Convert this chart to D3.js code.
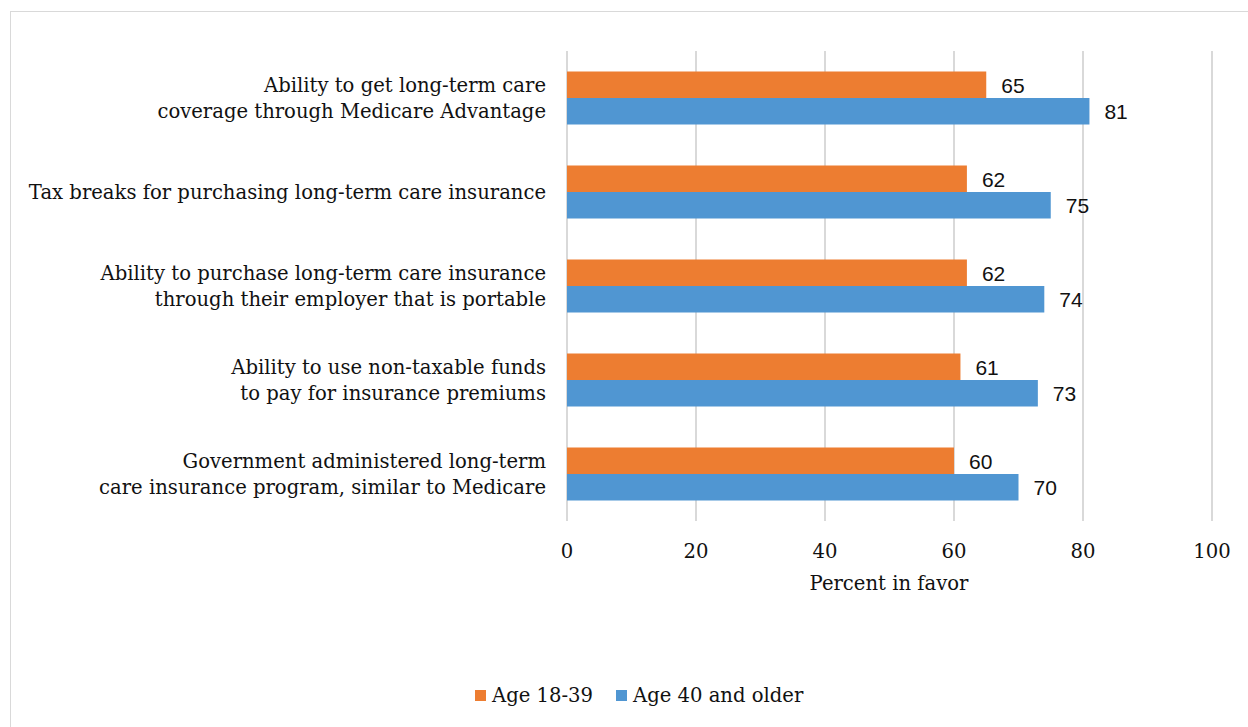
<!DOCTYPE html>
<html>
<head>
<meta charset="utf-8">
<script src="https://cdn.jsdelivr.net/npm/d3@7"></script>
<style>
  body { margin: 0; background: #fff; }
  svg { display: block; }
  .lbl { font-family: 'DejaVu Serif', serif; font-size: 19.6px; fill: #111; }
  .val { font-family: 'Liberation Sans', Arial, sans-serif; font-size: 21px; fill: #111; }
</style>
</head>
<body>
<svg width="1248" height="727"></svg>
<script>
const categories = [
  ['Ability to get long-term care', 'coverage through Medicare Advantage'],
  ['Tax breaks for purchasing long-term care insurance'],
  ['Ability to purchase long-term care insurance', 'through their employer that is portable'],
  ['Ability to use non-taxable funds', 'to pay for insurance premiums'],
  ['Government administered long-term', 'care insurance program, similar to Medicare']
]
const young = [65, 62, 62, 61, 60]
const older = [81, 75, 74, 73, 70]
const seriesNames = ['Age 18-39', 'Age 40 and older']
const ticks = [0, 20, 40, 60, 80, 100]

const colors = ['#ED7D31', '#5096D2']
const svg = d3.select('svg')

// outer frame (right and bottom edges run off the page)
svg.append('rect')
  .attr('x', 10.5).attr('y', 11.5)
  .attr('width', 1400).attr('height', 900)
  .attr('fill', 'none').attr('stroke', '#d9d9d9')

const x = d3.scaleLinear().domain([0, 100]).range([567, 1212])
const y = d3.scaleBand().domain(d3.range(categories.length)).range([51, 521])
const inner = d3.scaleBand().domain([0, 1]).range([0, 53])

// gridlines
svg.append('g').selectAll('line').data(ticks).join('line')
  .attr('x1', d => x(d)).attr('x2', d => x(d))
  .attr('y1', 51).attr('y2', 521)
  .attr('stroke', '#d9d9d9').attr('stroke-width', 2)

const rows = categories.map((c, i) => ({ i, vals: [young[i], older[i]] }))
const groups = svg.append('g').selectAll('g').data(rows).join('g')
  .attr('transform', d => `translate(0,${y(d.i) + (y.bandwidth() - 53) / 2})`)

groups.selectAll('rect').data(d => d.vals).join('rect')
  .attr('x', x(0))
  .attr('y', (d, j) => inner(j))
  .attr('width', d => x(d) - x(0))
  .attr('height', inner.bandwidth())
  .attr('fill', (d, j) => colors[j])

groups.selectAll('text.val').data(d => d.vals).join('text')
  .attr('class', 'val')
  .attr('x', d => x(d) + 15)
  .attr('y', (d, j) => inner(j) + inner.bandwidth() / 2 + 8)
  .text(d => d)

// category labels
svg.append('g').selectAll('text').data(categories).join('text')
  .attr('class', 'lbl')
  .attr('text-anchor', 'end')
  .attr('x', 546)
  .attr('y', (d, i) => y(i) + y.bandwidth() / 2 + 7 - (d.length - 1) * 13)
  .selectAll('tspan').data(d => d).join('tspan')
  .attr('x', 546)
  .attr('dy', (d, k) => k === 0 ? 0 : 26)
  .text(d => d)

// x axis labels
svg.append('g').selectAll('text').data(ticks).join('text')
  .attr('class', 'lbl')
  .attr('text-anchor', 'middle')
  .attr('x', d => x(d)).attr('y', 558)
  .text(d => d)

svg.append('text').attr('class', 'lbl')
  .attr('text-anchor', 'middle')
  .attr('x', 889).attr('y', 590)
  .text('Percent in favor')

// legend
const legendX = [475, 616]
const legend = svg.append('g').selectAll('g').data(seriesNames).join('g')
  .attr('transform', (d, i) => `translate(${legendX[i]},690)`)
legend.append('rect').attr('width', 11).attr('height', 11)
  .attr('fill', (d, i) => colors[i])
legend.append('text').attr('class', 'lbl')
  .attr('x', 17).attr('y', 12)
  .text(d => d)
</script>
</body>
</html>
